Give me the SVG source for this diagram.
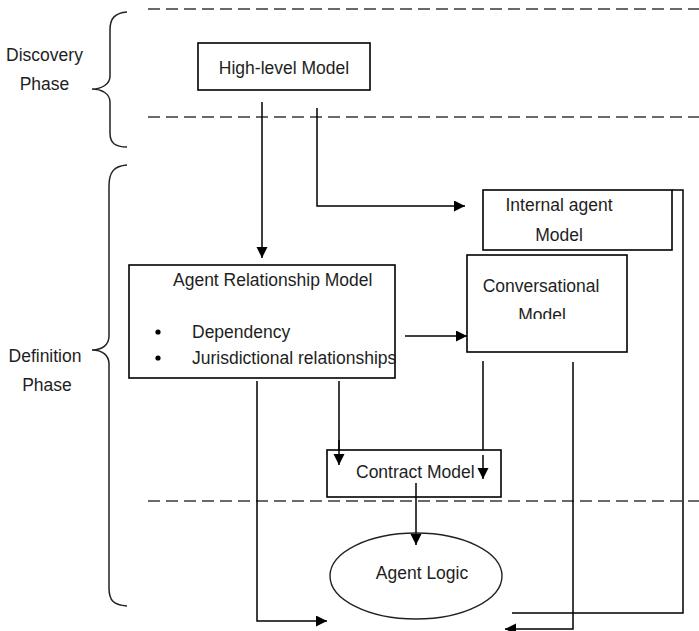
<svg xmlns="http://www.w3.org/2000/svg" width="699" height="631" viewBox="0 0 699 631">
  <style>
    .t { font-family: "Liberation Sans", Arial, sans-serif; font-size: 17.5px; fill: #1e1e1e; }
    .box { fill: #ffffff; stroke: #000000; stroke-width: 1.6; }
    .dash { fill: none; stroke: #3a3a3a; stroke-width: 1.6; stroke-dasharray: 12 6; }
    .brace { fill: none; stroke: #222222; stroke-width: 1.5; }
    .con { fill: none; stroke: #000000; stroke-width: 1.5; }
  </style>
  <defs>
    <marker id="arr" markerUnits="userSpaceOnUse" markerWidth="12" markerHeight="12" refX="11" refY="5.5" orient="auto">
      <path d="M0,0 L11,5.5 L0,11 Z" fill="#000000"/>
    </marker>
    <clipPath id="convClip">
      <rect x="467" y="255" width="160" height="64"/>
    </clipPath>
  </defs>
  <rect width="699" height="631" fill="#ffffff"/>

  <g id="phase-lines">
    <line class="dash" x1="148" y1="9" x2="699" y2="9"/>
    <line class="dash" x1="148" y1="117" x2="699" y2="117"/>
    <line class="dash" x1="148" y1="501" x2="699" y2="501"/>
  </g>

  <g id="discovery-phase">
    <path class="brace" d="M127,12 C115,13 110,18 110,30 L110,76 C110,84 102,89 92,89 C102,89 110,94 110,102 L110,133 C110,143 115,147 127,147"/>
    <text class="t" x="44.5" y="61" text-anchor="middle">Discovery</text>
    <text class="t" x="44.5" y="90" text-anchor="middle">Phase</text>
  </g>

  <g id="definition-phase">
    <path class="brace" d="M127,165 C114,166 109,172 109,186 L109,336 C109,345 102,350 92,350 C102,350 109,355 109,364 L109,588 C109,601 114,605 127,606"/>
    <text class="t" x="45" y="362" text-anchor="middle">Definition</text>
    <text class="t" x="47" y="391" text-anchor="middle">Phase</text>
  </g>

  <g id="connectors">
    <path class="con" d="M262,102 V258" marker-end="url(#arr)"/>
    <path class="con" d="M317,108 V206 H465" marker-end="url(#arr)"/>
    <path class="con" d="M405,336 H467" marker-end="url(#arr)"/>
    <path class="con" d="M339,381 V465" marker-end="url(#arr)"/>
    <path class="con" d="M483,361 V479" marker-end="url(#arr)"/>
    <path class="con" d="M257,381 V621 H327" marker-end="url(#arr)"/>
    <path class="con" d="M573,362 V629 H505" marker-end="url(#arr)"/>
    <path class="con" d="M672,190 H683 V613 H512"/>
  </g>

  <g id="high-level-model">
    <rect class="box" x="198" y="43" width="172" height="47"/>
    <text class="t" x="284" y="74" text-anchor="middle">High-level Model</text>
  </g>

  <g id="internal-agent-model">
    <rect class="box" x="483" y="190" width="189" height="60"/>
    <text class="t" x="559" y="211" text-anchor="middle">Internal agent</text>
    <text class="t" x="559" y="241" text-anchor="middle">Model</text>
  </g>

  <g id="agent-relationship-model">
    <rect class="box" x="129" y="265" width="266" height="113"/>
    <text class="t" x="173" y="286">Agent Relationship Model</text>
    <circle cx="158" cy="332" r="2.6" fill="#000000"/>
    <circle cx="158" cy="358" r="2.6" fill="#000000"/>
    <text class="t" x="192" y="338">Dependency</text>
    <text class="t" x="192" y="364">Jurisdictional relationships</text>
  </g>

  <g id="conversational-model">
    <rect class="box" x="467" y="255" width="160" height="97"/>
    <g clip-path="url(#convClip)">
      <text class="t" x="541" y="292" text-anchor="middle">Conversational</text>
      <text class="t" x="542" y="321" text-anchor="middle">Model</text>
    </g>
  </g>

  <g id="contract-model">
    <rect class="box" x="327" y="450" width="174" height="47"/>
    <text class="t" x="356" y="478">Contract Model</text>
  </g>

  <g id="contract-arrows">
    <path class="con" d="M339,440 V465" marker-end="url(#arr)"/>
    <path class="con" d="M483,455 V479" marker-end="url(#arr)"/>
    <path class="con" d="M416,483 V545" marker-end="url(#arr)"/>
  </g>

  <g id="agent-logic">
    <ellipse cx="416" cy="576" rx="86" ry="43" fill="none" stroke="#222222" stroke-width="1.4"/>
    <text class="t" x="422" y="579" text-anchor="middle">Agent Logic</text>
  </g>
</svg>
